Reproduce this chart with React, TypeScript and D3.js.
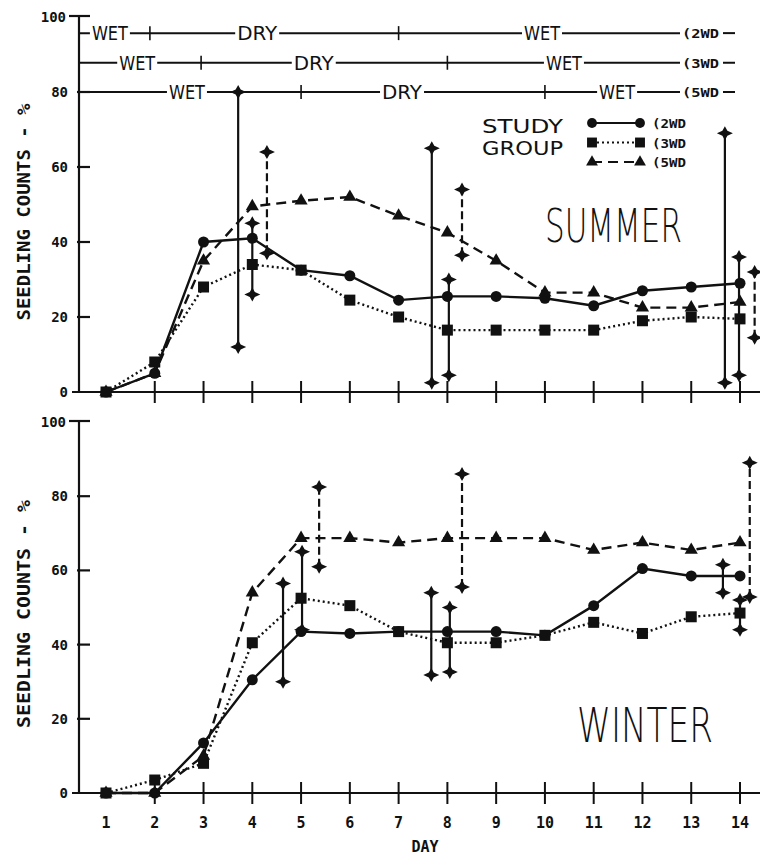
import React from "react";
import * as d3 from "d3";

// ---------- data ----------
const days = [1, 2, 3, 4, 5, 6, 7, 8, 9, 10, 11, 12, 13, 14];
const groups = ["2WD", "3WD", "5WD"];

const summer2WD = [0, 5, 40, 41, 32.5, 31, 24.5, 25.5, 25.5, 25, 23, 27, 28, 29];
const summer3WD = [0, 8, 28, 34, 32.5, 24.5, 20, 16.5, 16.5, 16.5, 16.5, 19, 20, 19.5];
const summer5WD = [0, 5, 35, 49.5, 51, 52, 47, 42.5, 35, 26.5, 26.5, 22.5, 22.5, 24];

const winter2WD = [0, 0, 13.5, 30.5, 43.5, 43, 43.5, 43.5, 43.5, 42.5, 50.5, 60.5, 58.5, 58.5];
const winter3WD = [0, 3.5, 8, 40.5, 52.5, 50.5, 43.5, 40.5, 40.5, 42.5, 46, 43, 47.5, 48.5];
const winter5WD = [0, 0, 10, 54, 68.7, 68.7, 67.5, 68.7, 68.7, 68.7, 65.5, 67.5, 65.5, 67.5];

// error bars: [group, day, low, high]
const summerErrors: [string, number, number, number][] = [
  ["2WD", 3.71, 12, 80],
  ["3WD", 4.0, 26, 45],
  ["5WD", 4.3, 37, 64],
  ["2WD", 7.68, 2.5, 65],
  ["3WD", 8.03, 4.5, 30],
  ["5WD", 8.3, 36.5, 54],
  ["2WD", 13.69, 2.5, 69],
  ["3WD", 13.98, 4.5, 36],
  ["5WD", 14.3, 14.5, 32],
];
const winterErrors: [string, number, number, number][] = [
  ["2WD", 4.63, 30, 56.5],
  ["3WD", 5.02, 44, 65],
  ["5WD", 5.37, 61, 82.5],
  ["2WD", 7.67, 31.8, 54],
  ["3WD", 8.05, 32.6, 50],
  ["5WD", 8.3, 55.5, 86],
  ["2WD", 13.65, 54, 61.5],
  ["3WD", 14.0, 44, 52],
  ["5WD", 14.2, 52.8, 89],
];

const yTicks = [0, 20, 40, 60, 80, 100];

// wet/dry schedule rows (summer panel): level, tick days, phase labels at days
const scheduleLevels = [95.7, 87.8, 80];
const scheduleTicks = [[1.9, 7], [2.95, 8], [5, 10]];
const schedulePhases = [
  [["WET", 1.08], ["DRY", 4.1], ["WET", 9.94]],
  [["WET", 1.64], ["DRY", 5.26], ["WET", 10.39]],
  [["WET", 2.66], ["DRY", 7.07], ["WET", 11.48]],
];

// ---------- layout ----------
const x = d3.scaleLinear().domain([1, 14]).range([106, 740]);
const ySum = d3.scaleLinear().domain([0, 100]).range([392, 17]);
const yWin = d3.scaleLinear().domain([0, 100]).range([793, 422]);
const AXIS_X = 79;

const dashFor: Record<string, string | undefined> = {
  "2WD": undefined,
  "3WD": "2,3",
  "5WD": "10,6",
};
const errDashFor: Record<string, string | undefined> = {
  "2WD": undefined,
  "3WD": undefined,
  "5WD": "8,4",
};

const MONO = "'DejaVu Sans Mono', monospace";
const THIN = "'DejaVu Sans', sans-serif";

function Marker({ g, cx, cy, s = 1 }: { g: string; cx: number; cy: number; s?: number }) {
  if (g === "2WD") return <circle cx={cx} cy={cy} r={5.5 * s} fill="#111" />;
  if (g === "3WD")
    return <rect x={cx - 5.5 * s} y={cy - 5.5 * s} width={11 * s} height={11 * s} fill="#111" />;
  const t = d3.symbol().type(d3.symbolTriangle).size(75 * s * s)();
  return <path d={t || ""} transform={`translate(${cx},${cy})`} fill="#111" />;
}

function StarEnd({ cx, cy }: { cx: number; cy: number }) {
  return (
    <path
      d="M-8,0 L-2.5,-2.5 L0,-7 L2.5,-2.5 L8,0 L2.5,2.5 L0,7 L-2.5,2.5 Z"
      transform={`translate(${cx},${cy})`}
      fill="#111"
    />
  );
}

function Panel({
  y,
  series,
  errors,
  showXLabels,
}: {
  y: d3.ScaleLinear<number, number>;
  series: number[][];
  errors: [string, number, number, number][];
  showXLabels: boolean;
}) {
  const y0 = y(0);
  const yTop = y(100);
  return (
    <g>
      {/* y axis */}
      <line x1={AXIS_X} x2={AXIS_X} y1={yTop - 1} y2={y0} stroke="#111" strokeWidth={2.2} />
      <line x1={AXIS_X - 10} x2={AXIS_X + 11} y1={yTop - 1} y2={yTop - 1} stroke="#111" strokeWidth={2.2} />
      {yTicks.map((t) => (
        <g key={t}>
          {t > 0 && t < 100 && (
            <line x1={AXIS_X - 2} x2={AXIS_X + 11} y1={y(t)} y2={y(t)} stroke="#111" strokeWidth={2.2} />
          )}
          <text
            x={t === 100 ? 66 : 68}
            y={y(t) + 5}
            textAnchor="end"
            fontFamily={MONO}
            fontWeight="bold"
            fontSize={14}
            fill="#111"
          >
            {t}
          </text>
        </g>
      ))}
      {/* x axis */}
      <line x1={AXIS_X - 7} x2={760} y1={y0} y2={y0} stroke="#111" strokeWidth={2.2} />
      {days.slice(1).map((d) => (
        <line key={d} x1={x(d)} x2={x(d)} y1={y0 - 11} y2={y0 + 11} stroke="#111" strokeWidth={2} />
      ))}
      {showXLabels &&
        days.map((d) => (
          <text
            key={d}
            x={x(d)}
            y={828}
            textAnchor="middle"
            fontFamily={MONO}
            fontWeight="bold"
            fontSize={15}
            fill="#111"
          >
            {d}
          </text>
        ))}
      {/* error bars */}
      {errors.map(([g, d, lo, hi], i) => (
        <g key={i}>
          <line
            x1={x(d)}
            x2={x(d)}
            y1={y(lo)}
            y2={y(hi)}
            stroke="#111"
            strokeWidth={2.2}
            strokeDasharray={errDashFor[g]}
          />
          <StarEnd cx={x(d)} cy={y(lo)} />
          <StarEnd cx={x(d)} cy={y(hi)} />
        </g>
      ))}
      {/* series */}
      {series.map((vals, si) => {
        const g = groups[si];
        const line = d3
          .line<number>()
          .x((_, i) => x(days[i]))
          .y((v) => y(v));
        return (
          <g key={g}>
            <path
              d={line(vals) || ""}
              fill="none"
              stroke="#111"
              strokeWidth={2.4}
              strokeDasharray={dashFor[g]}
            />
            {vals.map((v, i) => (
              <Marker key={i} g={g} cx={x(days[i])} cy={y(v)} />
            ))}
          </g>
        );
      })}
    </g>
  );
}

export default function App() {
  return (
    <svg
      width={760}
      height={857}
      style={{ position: "absolute", left: 0, top: 0, background: "#fff" }}
    >
      <rect width={760} height={857} fill="#fff" />

      {/* wet/dry schedule */}
      {scheduleLevels.map((lv, r) => {
        const yy = ySum(lv);
        return (
          <g key={r}>
            <line x1={AXIS_X} x2={680} y1={yy} y2={yy} stroke="#111" strokeWidth={2} />
            {scheduleTicks[r].map((d, i) => (
              <line key={i} x1={x(d)} x2={x(d)} y1={yy - 7} y2={yy + 7} stroke="#111" strokeWidth={1.6} />
            ))}
            {schedulePhases[r].map(([lab, d], i) => {
              const w = lab === "DRY" ? 40 : 36;
              const cx = x(d as number);
              return (
                <g key={i}>
                  <rect x={cx - w / 2 - 2} y={yy - 9} width={w + 4} height={18} fill="#fff" />
                  <text
                    x={cx}
                    y={yy + 7}
                    textAnchor="middle"
                    fontFamily={THIN}
                    fontSize={20}
                    textLength={w}
                    lengthAdjust="spacingAndGlyphs"
                    fill="#111"
                  >
                    {lab}
                  </text>
                </g>
              );
            })}
            <rect x={680} y={yy - 7} width={42} height={14} fill="#fff" />
            <text
              x={682}
              y={yy + 5}
              fontFamily={MONO}
              fontWeight="bold"
              fontSize={12}
              textLength={37}
              lengthAdjust="spacingAndGlyphs"
              fill="#111"
            >
              {`(${groups[r]}`}
            </text>
            <line x1={723} x2={735} y1={yy} y2={yy} stroke="#111" strokeWidth={2} />
          </g>
        );
      })}

      <Panel y={ySum} series={[summer2WD, summer3WD, summer5WD]} errors={summerErrors} showXLabels={false} />
      <Panel y={yWin} series={[winter2WD, winter3WD, winter5WD]} errors={winterErrors} showXLabels={true} />

      {/* legend */}
      <text x={482} y={133} fontFamily={THIN} fontSize={19} textLength={81} lengthAdjust="spacingAndGlyphs" fill="#111">
        STUDY
      </text>
      <text x={482} y={155} fontFamily={THIN} fontSize={19} textLength={81} lengthAdjust="spacingAndGlyphs" fill="#111">
        GROUP
      </text>
      {groups.map((g, i) => {
        const ly = 123 + i * 19.5;
        return (
          <g key={g}>
            <line x1={592} x2={640} y1={ly} y2={ly} stroke="#111" strokeWidth={2.2} strokeDasharray={dashFor[g]} />
            <Marker g={g} cx={592} cy={ly} s={0.9} />
            <Marker g={g} cx={640} cy={ly} s={0.9} />
            <text
              x={652}
              y={ly + 5}
              fontFamily={MONO}
              fontWeight="bold"
              fontSize={12}
              textLength={34}
              lengthAdjust="spacingAndGlyphs"
              fill="#111"
            >
              {`(${g}`}
            </text>
          </g>
        );
      })}

      {/* season titles */}
      <text x={545} y={242} fontFamily={THIN} fontWeight={200} fontSize={46} textLength={137} lengthAdjust="spacingAndGlyphs" fill="#111">
        SUMMER
      </text>
      <text
        transform="translate(577,742) scale(1,1.45)"
        fontFamily={THIN}
        fontWeight={200}
        fontSize={33}
        textLength={136}
        lengthAdjust="spacingAndGlyphs"
        fill="#111"
      >
        WINTER
      </text>

      {/* y axis titles */}
      {[212, 614].map((cy, i) => (
        <text
          key={i}
          transform={`translate(30,${cy}) rotate(-90)`}
          textAnchor="middle"
          fontFamily={MONO}
          fontWeight="bold"
          fontSize={18}
          textLength={i === 0 ? 217 : 228}
          lengthAdjust="spacingAndGlyphs"
          fill="#111"
        >
          SEEDLING COUNTS - %
        </text>
      ))}

      {/* x axis title */}
      <text x={425} y={852} textAnchor="middle" fontFamily={MONO} fontWeight="bold" fontSize={15} fill="#111">
        DAY
      </text>
    </svg>
  );
}
